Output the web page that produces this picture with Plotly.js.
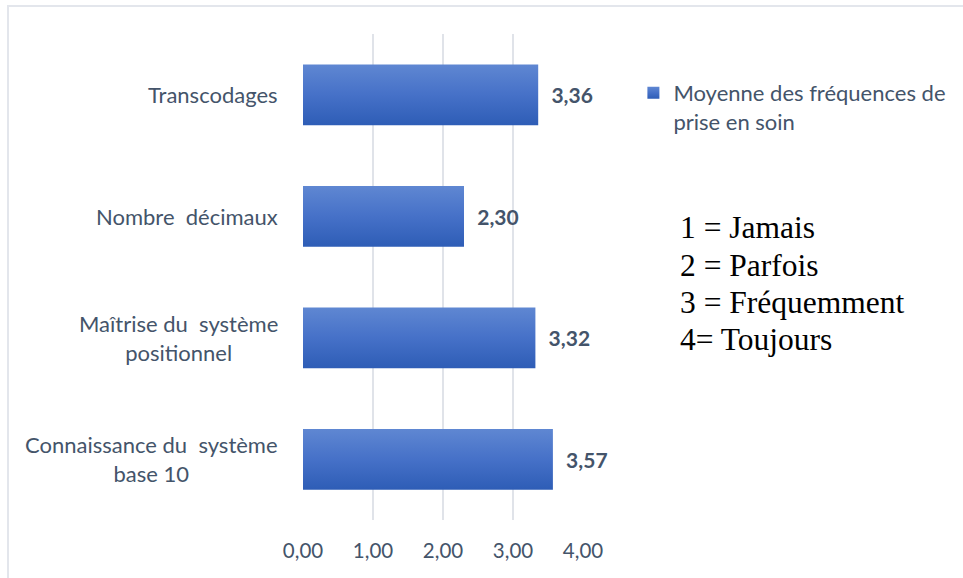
<!DOCTYPE html>
<html><head><meta charset="utf-8">
<script src="https://cdn.plot.ly/plotly-3.0.1.min.js"></script>
<style>
html,body{margin:0;padding:0;background:#fff;}
#wrap{position:relative;width:963px;height:578px;}
#chart{width:963px;height:578px;}
#frame{position:absolute;left:7px;top:5px;width:960px;height:580px;border-left:2px solid #e3e6ec;border-top:2px solid #e3e6ec;pointer-events:none;}
</style></head>
<body>
<div id="wrap"><div id="chart"></div><div id="frame"></div></div>
<script>
const categories = ["Connaissance du  système<br>base 10", "Maîtrise du  système<br>positionnel", "Nombre  décimaux", "Transcodages"];
const values = [3.57, 3.32, 2.30, 3.36];
const seriesName = "Moyenne des fréquences de<br>prise en soin";
const xTicks = [0, 1, 2, 3, 4];
const scaleLines = ["1 = Jamais", "2 = Parfois", "3 = Fréquemment", "4= Toujours"];

const catIds = categories.map((c, i) => "c" + i);
const textCol = "#44546a";
const font = "Lato, 'Open Sans', sans-serif";

const trace = {
  type: "bar", orientation: "h",
  x: values, y: catIds,
  name: seriesName,
  width: 0.5,
  marker: {color: "#4472c4"},
  texttemplate: "  %{x:.2f}",
  textposition: "outside",
  cliponaxis: false,
  textfont: {family: font, size: 21, color: textCol, weight: "bold"},
  hoverinfo: "none"
};

const annotations = catIds.map((id, i) => ({
  xref: "paper", yref: "y", x: -0.082, y: id,
  xanchor: "right", yanchor: "middle", align: "center",
  text: categories[i], showarrow: false,
  font: {family: font, size: 22, color: textCol}
}));
scaleLines.forEach((t, i) => {
  annotations.push({
    xref: "paper", yref: "paper", x: 1.339, y: (520 - (228 + i * 37.3)) / 486,
    xanchor: "left", yanchor: "middle", align: "left",
    text: t, showarrow: false,
    font: {family: "'Liberation Serif', 'Times New Roman', serif", size: 31.5, color: "#000"}
  });
});

const layout = {
  width: 963, height: 578,
  margin: {l: 303, r: 380, t: 34, b: 58},
  paper_bgcolor: "#fff", plot_bgcolor: "#fff",
  separators: ",.",
  showlegend: true,
  legend: {x: 1.18, y: 0.922, xanchor: "left", yanchor: "top", valign: "top",
    font: {family: font, size: 22, color: textCol}, bgcolor: "rgba(0,0,0,0)"},
  xaxis: {range: [0, 4], tickvals: xTicks, tickformat: ".2f",
    showgrid: true, gridcolor: "#e0e3e9", gridwidth: 2, zeroline: false,
    showline: false, ticks: "", ticklabelstandoff: 16,
    tickfont: {family: font, size: 20.5, color: textCol}, fixedrange: true},
  yaxis: {type: "category", categoryorder: "array", categoryarray: catIds,
    showticklabels: false, showgrid: false, zeroline: false, showline: false, ticks: "",
    fixedrange: true},
  annotations: annotations
};

Plotly.newPlot("chart", [trace], layout, {displayModeBar: false, staticPlot: true}).then(gd => {
  const svg = gd.querySelector("svg.main-svg");
  const ns = "http://www.w3.org/2000/svg";
  let defs = svg.querySelector("defs");
  const g = document.createElementNS(ns, "linearGradient");
  g.setAttribute("id", "barGrad");
  g.setAttribute("x1", "0"); g.setAttribute("y1", "0");
  g.setAttribute("x2", "0"); g.setAttribute("y2", "1");
  [["0", "#5f87d2"], ["0.5", "#4671c8"], ["1", "#2e5db6"]].forEach(([o, c]) => {
    const s = document.createElementNS(ns, "stop");
    s.setAttribute("offset", o); s.setAttribute("stop-color", c);
    g.appendChild(s);
  });
  defs.appendChild(g);
  gd.querySelectorAll(".barlayer .point path").forEach(p => { p.style.fill = "url(#barGrad)"; });
  gd.querySelectorAll(".legend .legendpoints path").forEach(p => { p.style.fill = "url(#barGrad)"; });
});
</script>
</body></html>
